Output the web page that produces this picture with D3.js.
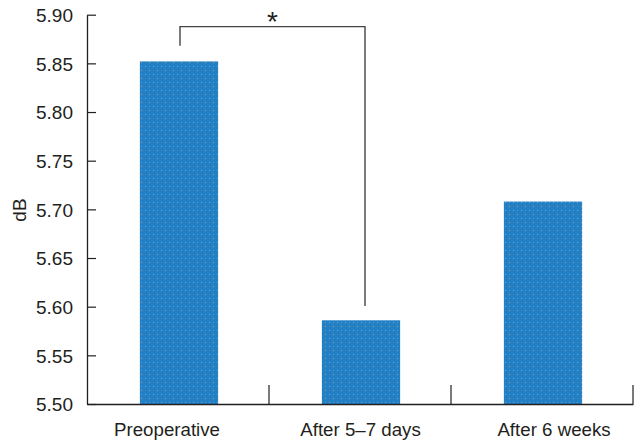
<!DOCTYPE html>
<html><head><meta charset="utf-8">
<script src="https://cdn.jsdelivr.net/npm/d3@7"></script>
<style>
html,body{margin:0;padding:0;background:#fff;}
svg text{font-family:"Liberation Sans",Arial,Helvetica,sans-serif;fill:#231f20;}
</style></head>
<body>
<svg id="chart" width="640" height="446"></svg>
<script>
const categories = ["Preoperative", "After 5\u20137 days", "After 6 weeks"];
const values = [5.852, 5.586, 5.708];
const yTicks = [5.50, 5.55, 5.60, 5.65, 5.70, 5.75, 5.80, 5.85, 5.90];
const yLabel = "dB";
const sigPair = [0, 1];
const sigMark = "*";

const svg = d3.select("#chart");
const m = {left: 87, right: 633, top: 14.7, bottom: 404};

const x = d3.scaleBand().domain(categories).range([m.left, m.right]).paddingInner(0).paddingOuter(0);
const xLab = d3.scalePoint().domain(categories).range([167, 554]);
const y = d3.scaleLinear().domain([5.50, 5.90]).range([m.bottom, m.top]);
const barW = x.bandwidth() * 0.43;

// pattern for dotted bar texture
const defs = svg.append("defs");
const pat = defs.append("pattern").attr("id", "dots").attr("patternUnits", "userSpaceOnUse")
  .attr("width", 8).attr("height", 8);
pat.append("rect").attr("width", 8).attr("height", 8).attr("fill", "#2380c4");
pat.append("rect").attr("x", 1).attr("y", 2).attr("width", 1).attr("height", 1).attr("fill", "#5aa6e0");
pat.append("rect").attr("x", 5).attr("y", 6).attr("width", 1).attr("height", 1).attr("fill", "#b8956e");
pat.append("rect").attr("x", 5).attr("y", 2).attr("width", 1).attr("height", 1).attr("fill", "#4f9ad6");

// bars
svg.append("g").selectAll("rect").data(categories).join("rect")
  .attr("x", (d) => x(d) + x.bandwidth() / 2 - barW / 2 + 1)
  .attr("y", (d, i) => y(values[i]))
  .attr("width", barW)
  .attr("height", (d, i) => y(5.50) - y(values[i]))
  .attr("fill", "url(#dots)");

// y axis
const yAxis = d3.axisLeft(y).tickValues(yTicks).tickFormat(d3.format(".2f")).tickSizeInner(-9).tickSizeOuter(0).tickPadding(14);
const gy = svg.append("g").attr("transform", `translate(${m.left},0)`).call(yAxis);
gy.select(".domain").attr("stroke", "#231f20").attr("stroke-width", 1.3);
gy.selectAll(".tick line").attr("stroke", "#231f20").attr("stroke-width", 1.2);
gy.selectAll(".tick text").attr("font-size", 19).attr("fill", "#231f20").attr("dy", "0.36em");

// x axis
const xAxis = d3.axisBottom(x).tickSize(0).tickFormat(() => "");
const gx = svg.append("g").attr("transform", `translate(0,${m.bottom})`).call(xAxis);
gx.select(".domain").attr("stroke", "#231f20").attr("stroke-width", 1.3);
gx.selectAll(".tick").remove();
svg.append("g").selectAll("text").data(categories).join("text")
  .attr("x", d => xLab(d)).attr("y", 436).attr("text-anchor", "middle")
  .attr("font-size", 18.7).text(d => d);
// boundary ticks (inward)
const bounds = categories.slice(1).map(c => x(c)).concat([m.right]);
gx.selectAll(".bt").data(bounds).join("line").attr("class", "bt")
  .attr("x1", d => d).attr("x2", d => d).attr("y1", 0).attr("y2", -19)
  .attr("stroke", "#231f20").attr("stroke-width", 1.2);

// y label
svg.append("text").attr("transform", `translate(26,210) rotate(-90)`)
  .attr("text-anchor", "middle").attr("font-size", 19).text(yLabel);

// significance bracket
const bx1 = x(categories[sigPair[0]]) + x.bandwidth() / 2 + 2;
const bx2 = x(categories[sigPair[1]]) + x.bandwidth() / 2 + 5;
const bTop = y(5.8877);
svg.append("path")
  .attr("d", `M${bx1},${y(5.868)}V${bTop}H${bx2}V${y(5.6007)}`)
  .attr("fill", "none").attr("stroke", "#444").attr("stroke-width", 1.4);
svg.append("text").attr("x", (bx1 + bx2) / 2).attr("y", bTop + 4)
  .attr("text-anchor", "middle").attr("font-size", 28).text(sigMark);
</script>
</body></html>
